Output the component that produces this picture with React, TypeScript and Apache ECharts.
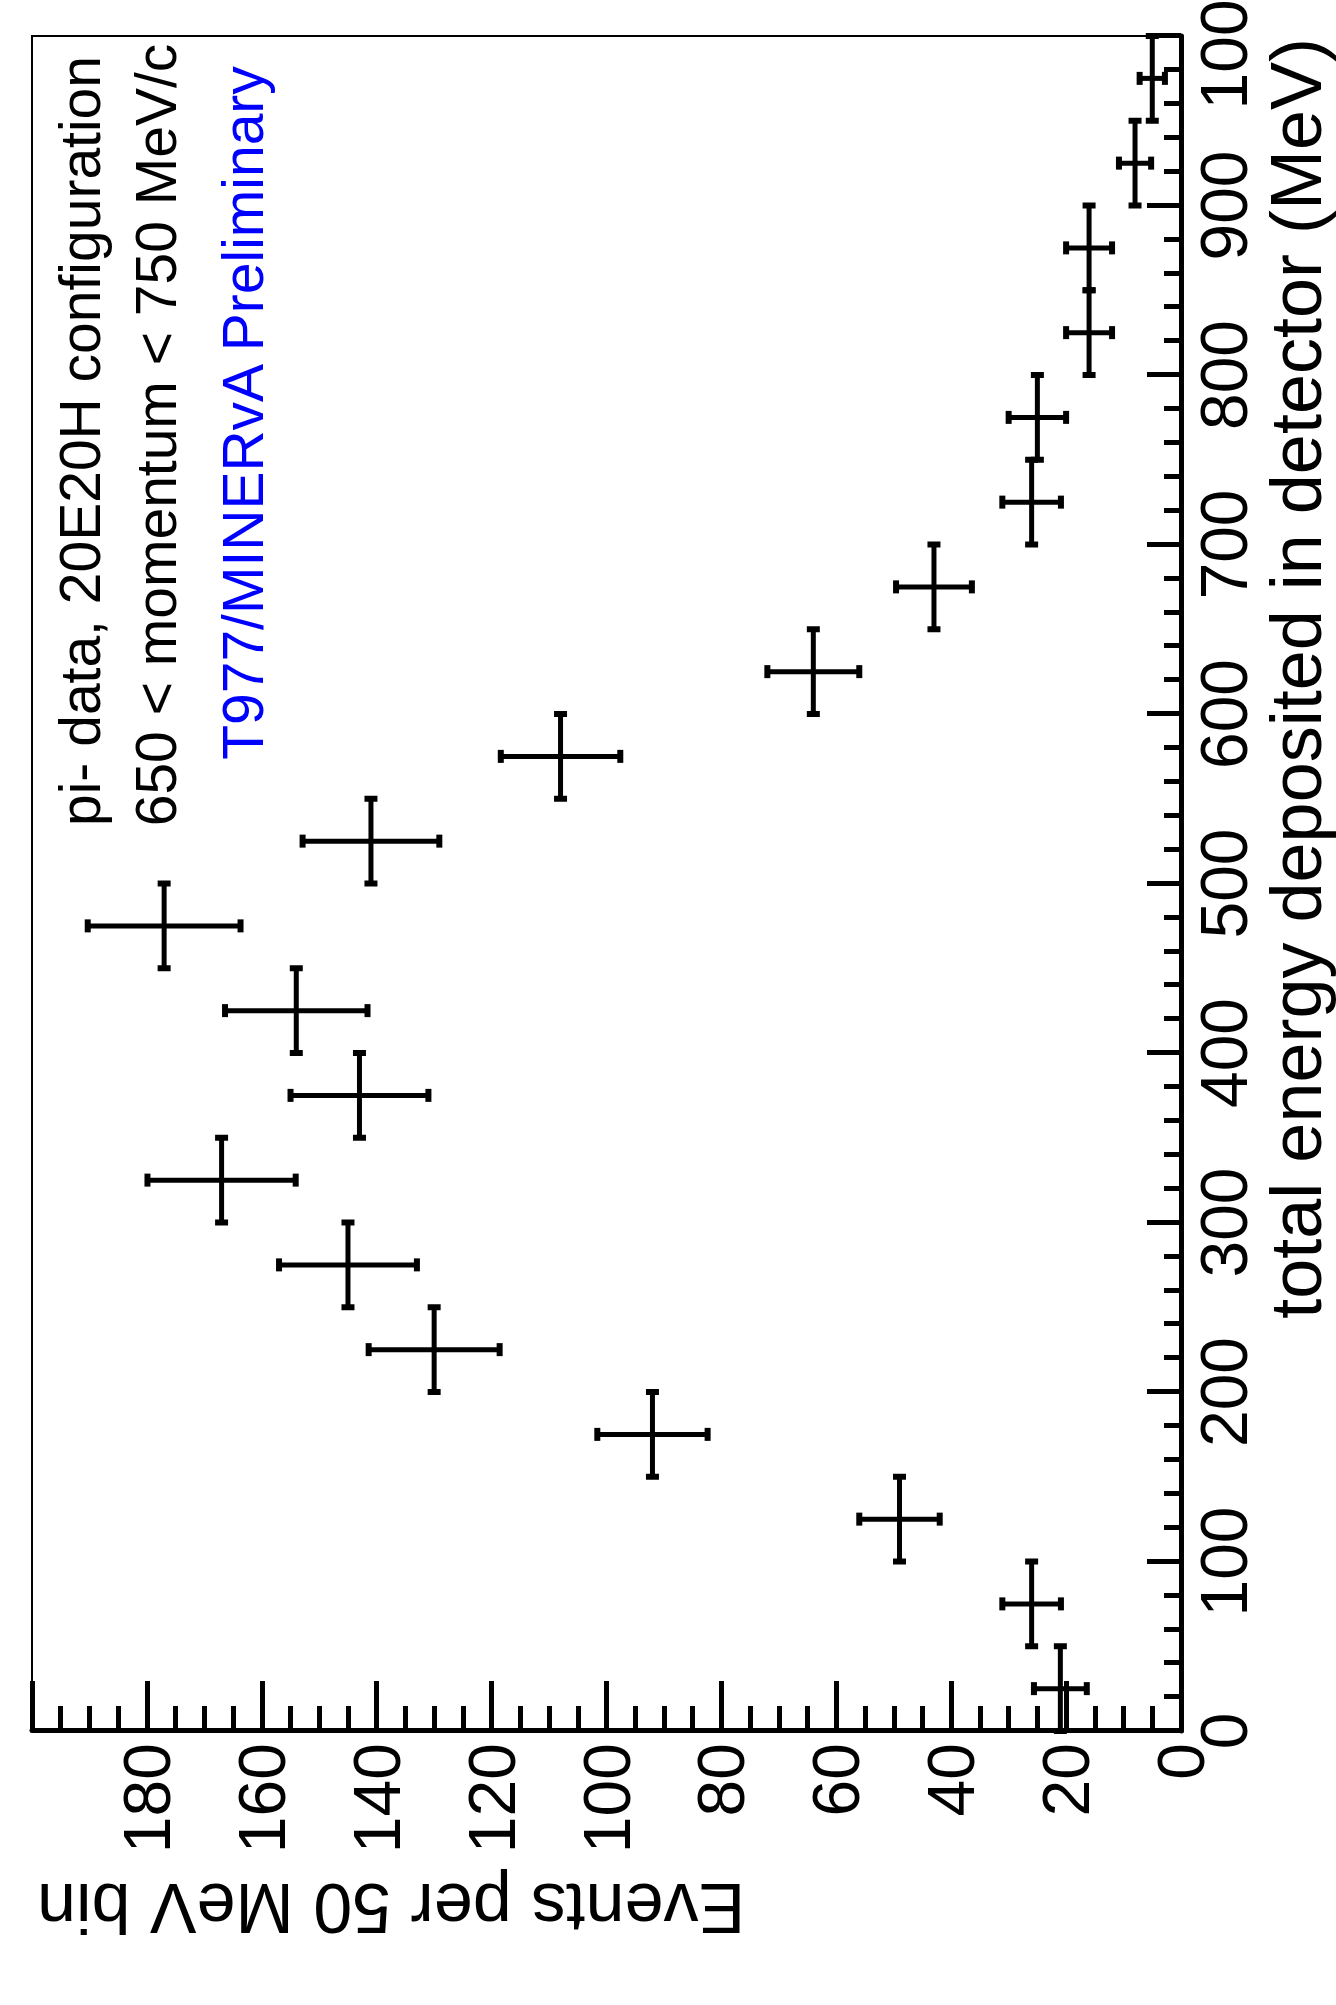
import React, { useEffect, useRef } from "react";
import * as echarts from "echarts";

// Data (energy bins of 50 MeV)
const binCenters = [25, 75, 125, 175, 225, 275, 325, 375, 425, 475, 525, 575, 625, 675, 725, 775, 825, 875, 925, 975];
const binHalfWidth = 25;
const events = [21, 26, 49, 92, 130, 145, 167, 143, 154, 177, 141, 108, 64, 43, 26, 25, 16, 16, 8, 5];
const eventErrors = [4.6, 5.1, 7.0, 9.6, 11.4, 12.0, 12.9, 12.0, 12.4, 13.3, 11.9, 10.4, 8.0, 6.6, 5.1, 5.0, 4.0, 4.0, 2.8, 2.2];

const xTitle = "total energy deposited in detector (MeV)";
const yTitle = "Events per 50 MeV bin";
const notes = ["pi- data, 20E20H configuration", "650 < momentum < 750 MeV/c", "T977/MINERvA Preliminary"];
const noteColors = ["#000000", "#000000", "#0000ff"];

// the chart is drawn in landscape and the whole drawing rotated by -90deg
const W = 2005;
const H = 1336;
const FONT = "'Liberation Sans', Arial, Helvetica, sans-serif";

export default function App() {
  const ref = useRef<HTMLDivElement>(null);

  useEffect(() => {
    if (!ref.current) return;
    const chart = echarts.init(ref.current, null, { renderer: "svg", width: W, height: H });
    const data = binCenters.map((c, i) => [c, events[i], binHalfWidth, eventErrors[i]]);
    const cap = 6.5;
    const lw = 5;

    chart.setOption({
      animation: false,
      backgroundColor: "#ffffff",
      grid: {
        left: 274,
        right: 36,
        top: 32,
        bottom: 155,
        outerBoundsMode: "none",
        containLabel: false,
        show: true,
        borderColor: "#000",
        borderWidth: 2,
        backgroundColor: "transparent",
      },
      xAxis: {
        type: "value",
        min: 0,
        max: 1000,
        interval: 100,
        position: "bottom",
        axisLine: { show: true, onZero: false, lineStyle: { color: "#000", width: 5 } },
        axisTick: { show: true, inside: true, length: 34, lineStyle: { color: "#000", width: 5 } },
        minorTick: { show: true, splitNumber: 5, length: 17, lineStyle: { color: "#000", width: 5 } },
        axisLabel: {
          show: true,
          color: "#000",
          fontSize: 66,
          fontFamily: FONT,
          margin: 10,
          showMaxLabel: true,
          showMinLabel: true,
          formatter: (v: number) => String(v),
        },
        splitLine: { show: false },
      },
      yAxis: {
        type: "value",
        min: 0,
        max: 200,
        interval: 20,
        position: "left",
        axisLine: { show: true, onZero: false, lineStyle: { color: "#000", width: 5 } },
        axisTick: { show: true, inside: true, length: 50, lineStyle: { color: "#000", width: 5 } },
        minorTick: { show: true, splitNumber: 4, length: 25, lineStyle: { color: "#000", width: 5 } },
        axisLabel: {
          show: true,
          color: "#000",
          fontSize: 66,
          fontFamily: FONT,
          margin: 12,
          formatter: (v: number) => (v === 200 ? "" : String(v)),
        },
        splitLine: { show: false },
      },
      series: [
        {
          type: "custom",
          data,
          encode: { x: 0, y: 1 },
          z: 5,
          clip: false,
          renderItem: (params: any, api: any) => {
            const x = api.value(0);
            const y = api.value(1);
            const ex = api.value(2);
            const ey = api.value(3);
            const l = api.coord([x - ex, y]);
            const r = api.coord([x + ex, y]);
            const b = api.coord([x, y - ey]);
            const t = api.coord([x, y + ey]);
            const st = { stroke: "#000", lineWidth: lw, fill: "none" };
            const capSt = { stroke: "#000", lineWidth: 6, fill: "none" };
            return {
              type: "group",
              children: [
                { type: "line", shape: { x1: l[0], y1: l[1], x2: r[0], y2: r[1] }, style: st },
                { type: "line", shape: { x1: l[0], y1: l[1] - cap, x2: l[0], y2: l[1] + cap }, style: capSt },
                { type: "line", shape: { x1: r[0], y1: r[1] - cap, x2: r[0], y2: r[1] + cap }, style: capSt },
                { type: "line", shape: { x1: b[0], y1: b[1], x2: t[0], y2: t[1] }, style: st },
                { type: "line", shape: { x1: b[0] - cap, y1: b[1], x2: b[0] + cap, y2: b[1] }, style: capSt },
                { type: "line", shape: { x1: t[0] - cap, y1: t[1], x2: t[0] + cap, y2: t[1] }, style: capSt },
              ],
            };
          },
        },
      ],
      graphic: [
        {
          type: "text",
          x: 1967,
          y: 1296,
          style: {
            text: xTitle,
            fontSize: 72,
            fontFamily: FONT,
            fill: "#000",
            textAlign: "right",
            textVerticalAlign: "middle",
          },
        },
        {
          type: "text",
          x: 97,
          y: 37,
          rotation: Math.PI / 2,
          style: {
            text: yTitle,
            fontSize: 70,
            fontFamily: FONT,
            fill: "#000",
            textAlign: "right",
            textVerticalAlign: "middle",
          },
        },
        ...notes.map((n, i) => ({
          type: "text",
          x: [1564, 1570, 1592][i],
          y: [80, 156, 243][i],
          style: {
            text: n,
            fontSize: 57,
            fontFamily: FONT,
            fill: noteColors[i],
            textAlign: "center",
            textVerticalAlign: "middle",
          },
        })),
      ],
    });
    return () => chart.dispose();
  }, []);

  return (
    <div
      style={{
        position: "absolute",
        left: 0,
        top: 0,
        width: W,
        height: H,
        transformOrigin: "0 0",
        transform: `translateY(${W}px) rotate(-90deg)`,
        background: "#fff",
      }}
    >
      <div ref={ref} style={{ width: W, height: H }} />
    </div>
  );
}
